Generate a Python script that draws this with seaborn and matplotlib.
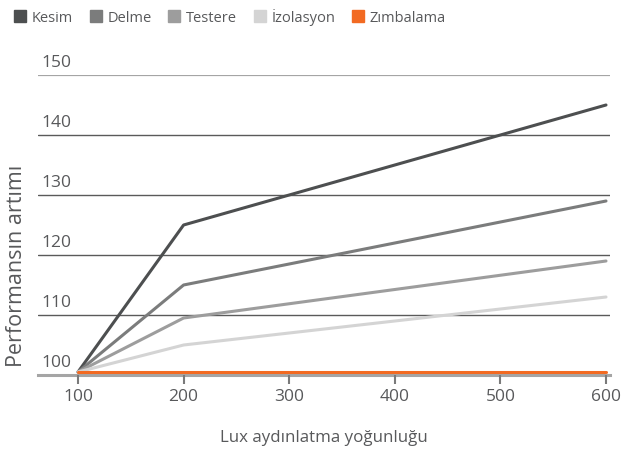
import pandas as pd
import matplotlib
matplotlib.use("Agg")
import matplotlib.pyplot as plt
import seaborn as sns
from matplotlib.lines import Line2D

# ---------------------------------------
# data
# ---------------------------------------
lux = [100, 200, 600]
kesim = [100.5, 125, 145]
delme = [100.5, 115, 129]
testere = [100.5, 109.5, 119]
izolasyon = [100.5, 105, 113]
zimbalama = [100.5, 100.5, 100.5]

series_names = ["Kesim", "Delme", "Testere", "İzolasyon", "Zımbalama"]
series_values = [kesim, delme, testere, izolasyon, zimbalama]
colors = ["#4d4f50", "#7b7c7c", "#9d9d9d", "#d4d4d4", "#f26a22"]
y_ticks = [100, 110, 120, 130, 140, 150]
x_ticks = [100, 200, 300, 400, 500, 600]

rows = []
for name, vals in zip(series_names, series_values):
    for x, y in zip(lux, vals):
        rows.append({"lux": x, "perf": y, "seri": name})
df = pd.DataFrame(rows)

sns.set_style("white")
plt.rcParams["font.family"] = ["Open Sans", "DejaVu Sans"]
text_color = "#58595b"

fig = plt.figure(figsize=(6.42, 4.54), dpi=100)
ax = fig.add_axes([38 / 642, 1 - 375 / 454, (610 - 38) / 642, 300 / 454])

palette = dict(zip(series_names, colors))
sns.lineplot(data=df, x="lux", y="perf", hue="seri", palette=palette,
             linewidth=2.2, legend=False, ax=ax, zorder=3)

ax.set_xlim(100 - 40 / 105.6 * 100, 100 + 532 / 105.6 * 100)
ax.set_ylim(100, 150)
ax.set_xticks(x_ticks)
ax.set_xticklabels([str(t) for t in x_ticks], fontsize=12.5, color=text_color)
ax.tick_params(axis="x", length=0, pad=10)
ax.set_yticks([])
ax.set_ylabel("")

# tick marks under the axis (data coordinates, outside the axes box)
ax.vlines(x_ticks, 98.5, 100, colors="#7a7a7a", linewidth=1.5,
          clip_on=False, zorder=6)

# grid lines
for t in y_ticks[1:-1]:
    ax.axhline(t, color="#5a5a5a", lw=1.0, zorder=1)
ax.axhline(150, color="#a5a5a5", lw=1.6, zorder=1)
for s in ["top", "left", "right"]:
    ax.spines[s].set_visible(False)
ax.spines["bottom"].set_color("#a5a5a5")
ax.spines["bottom"].set_linewidth(2.2)

# y tick labels sitting above the lines
for t in y_ticks:
    ax.annotate(str(t), xy=(0, t), xycoords=ax.get_yaxis_transform(),
                xytext=(2.5, 3), textcoords="offset points",
                ha="left", va="bottom", fontsize=12.5, color=text_color)

ax.set_xlabel("Lux aydınlatma yoğunluğu", fontsize=12.2, color=text_color, labelpad=18)
fig.text(17 / 642, 1 - 266 / 454, "Performansın artımı", rotation=90,
         ha="center", va="center", fontsize=15.5, color=text_color)

handles = [Line2D([], [], marker="s", linestyle="none", markersize=9,
                  markerfacecolor=c, markeredgecolor=c) for c in colors]
fig.legend(handles, series_names, loc="upper left", bbox_to_anchor=(0.0, 1.01),
           ncol=5, frameon=False, fontsize=10.5, handletextpad=0.3,
           columnspacing=1.05, handlelength=1.0, labelcolor=text_color)

fig.savefig("out.png", dpi=100)
